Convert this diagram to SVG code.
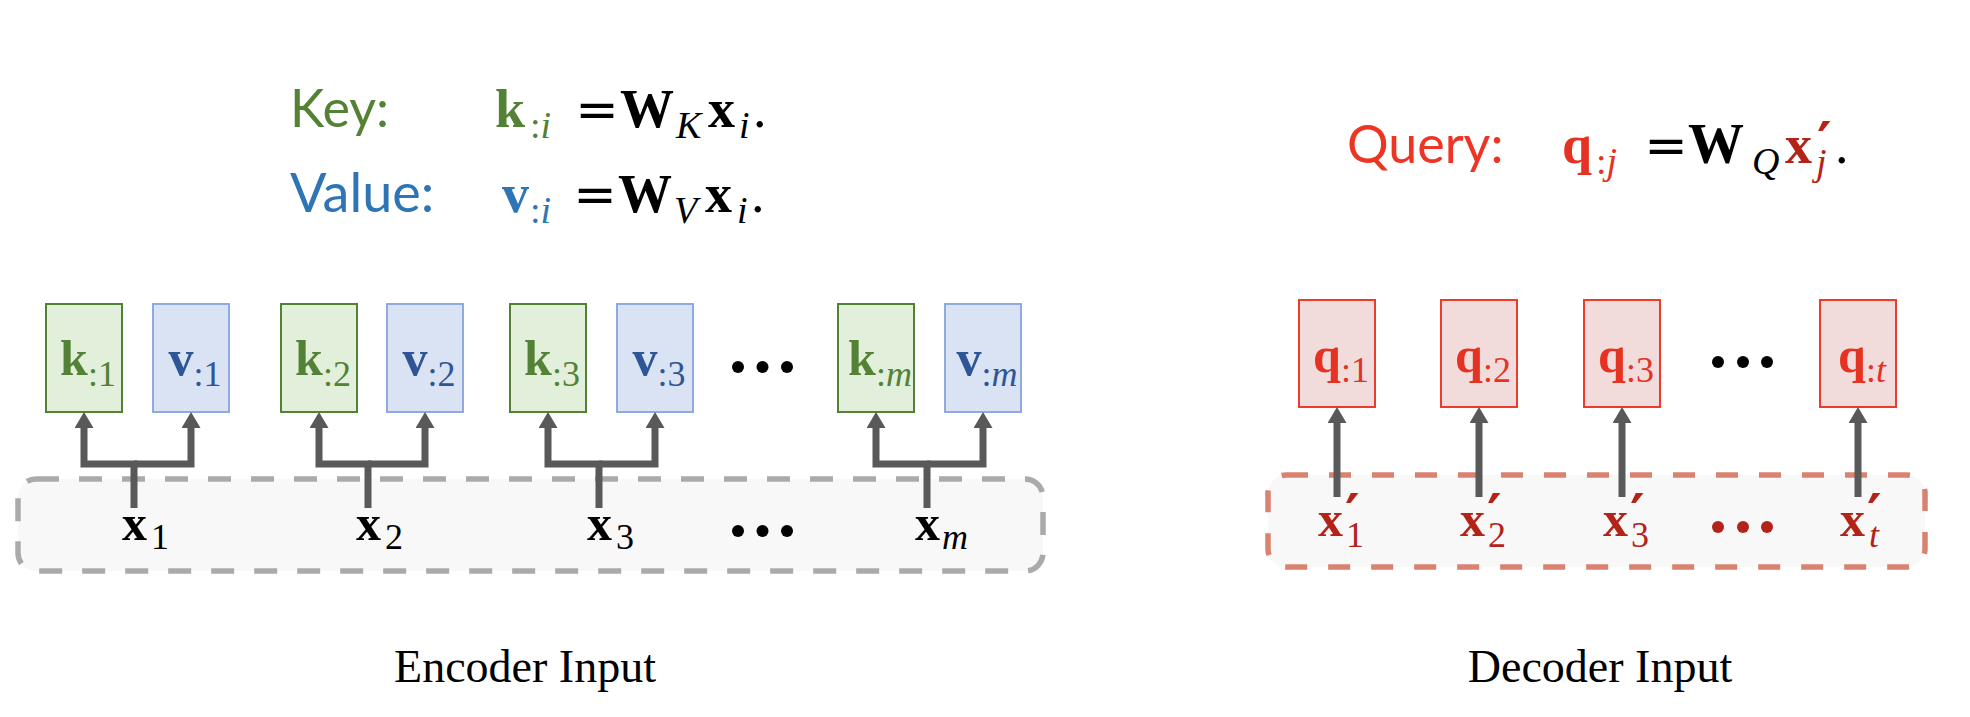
<svg xmlns="http://www.w3.org/2000/svg" width="1970" height="717" viewBox="0 0 1970 717">
<style>
.sans{font-family:Lato,"Liberation Sans",sans-serif}
.b{font-family:"Liberation Serif",serif;font-weight:bold}
.s{font-family:"Liberation Serif",serif;font-weight:normal}
.i{font-style:italic}
.eq{font-family:"DejaVu Sans",sans-serif;font-size:52px}
.kbox{fill:#e2efda;stroke:#548235;stroke-width:2}
.vbox{fill:#dae3f3;stroke:#8faadc;stroke-width:2}
.qbox{fill:#f2dcdb;stroke:#ee3b2b;stroke-width:2}
.kt{fill:#538135;font-size:50px}
.vt{fill:#2f5597;font-size:50px}
.qt{fill:#e53222;font-size:50px}
.sub{font-size:36px}
.xe{fill:#000;font-size:50px}
.xd{fill:#b42318;font-size:50px}
.pr{font-family:"DejaVu Serif","Liberation Serif",serif;font-weight:bold;font-size:56px}
.conn{fill:none;stroke:#595959;stroke-width:7;stroke-linejoin:miter}
.cap{font-family:"Liberation Serif",serif;font-size:46px;fill:#000}
</style>
<defs>
<marker id="ah" markerUnits="userSpaceOnUse" markerWidth="16" markerHeight="19" viewBox="0 0 16 19" refX="0" refY="9.5" orient="auto">
<path d="M0,0 L16,9.5 L0,19 Z" fill="#595959"/>
</marker>
</defs>
<rect width="1970" height="717" fill="#ffffff"/>

<g id="formula-key">
<text x="290" y="127" class="sans" font-size="52" fill="#548235">Key:</text>
<text x="495" y="127" class="b" font-size="54" fill="#548235">k</text>
<text x="530" y="138" class="s" font-size="38" fill="#548235">:<tspan class="i">i</tspan></text>
<text x="597" y="127" class="eq" text-anchor="middle">=</text>
<text x="620" y="127" class="b" font-size="54">W</text>
<text x="676" y="138" class="s i" font-size="38">K</text>
<text x="708" y="127" class="b" font-size="54">x</text>
<text x="739" y="138" class="s i" font-size="38">i</text>
<text x="753" y="127" class="s" font-size="54">.</text>
</g>

<g id="formula-value">
<text x="290" y="212" class="sans" font-size="54" fill="#2e75b6">Value:</text>
<text x="502" y="212" class="b" font-size="54" fill="#2e75b6">v</text>
<text x="530" y="223" class="s" font-size="38" fill="#2e75b6">:<tspan class="i">i</tspan></text>
<text x="595" y="212" class="eq" text-anchor="middle">=</text>
<text x="618" y="212" class="b" font-size="54">W</text>
<text x="674" y="223" class="s i" font-size="38">V</text>
<text x="705" y="212" class="b" font-size="54">x</text>
<text x="737" y="223" class="s i" font-size="38">i</text>
<text x="751" y="212" class="s" font-size="54">.</text>
</g>

<g id="formula-query">
<text x="1347" y="163" class="sans" font-size="52" fill="#ee3524">Query:</text>
<text x="1562" y="163" class="b" font-size="54" fill="#e53222">q</text>
<text x="1596" y="174" class="s" font-size="38" fill="#e53222">:<tspan class="i">j</tspan></text>
<text x="1666" y="163" class="eq" text-anchor="middle">=</text>
<text x="1688" y="163" class="b" font-size="56">W</text>
<text x="1752" y="174" class="s i" font-size="38">Q</text>
<text x="1785" y="163" class="b" font-size="54" fill="#b42318">x<tspan class="pr" x="1817" y="162">′</tspan><tspan class="s i" font-size="38" font-weight="normal" x="1816" y="175">j</tspan></text>
<text x="1835" y="163" class="s" font-size="54">.</text>
</g>

<g id="encoder-input">
<rect x="18" y="479" width="1025" height="92" rx="18" fill="#f8f8f8" stroke="#aaaaaa" stroke-width="5.5" stroke-dasharray="23 20"/>
<text x="122" y="540" class="b xe">x<tspan class="s sub" dx="4" dy="9">1</tspan></text>
<text x="356" y="540" class="b xe">x<tspan class="s sub" dx="4" dy="9">2</tspan></text>
<text x="587" y="540" class="b xe">x<tspan class="s sub" dx="4" dy="9">3</tspan></text>
<text x="915" y="540" class="b xe">x<tspan class="s sub i" dx="2" dy="9">m</tspan></text>
<g fill="#000"><circle cx="738" cy="531" r="6"/><circle cx="762.5" cy="531" r="6"/><circle cx="787" cy="531" r="6"/></g>
</g>

<g id="decoder-input">
<rect x="1268" y="475" width="657" height="92" rx="18" fill="#f8f8f8" stroke="#d9826f" stroke-width="5.5" stroke-dasharray="22 21"/>
<text x="1318" y="536" class="b xd">x<tspan class="pr" x="1345" y="534">′</tspan><tspan class="s sub" x="1346" y="547">1</tspan></text>
<text x="1460" y="536" class="b xd">x<tspan class="pr" x="1487" y="534">′</tspan><tspan class="s sub" x="1488" y="547">2</tspan></text>
<text x="1603" y="536" class="b xd">x<tspan class="pr" x="1630" y="534">′</tspan><tspan class="s sub" x="1631" y="547">3</tspan></text>
<text x="1840" y="536" class="b xd">x<tspan class="pr" x="1867" y="534">′</tspan><tspan class="s sub i" x="1869" y="547">t</tspan></text>
<g fill="#b42318"><circle cx="1718" cy="527" r="6"/><circle cx="1743" cy="527" r="6"/><circle cx="1767" cy="527" r="6"/></g>
</g>

<g id="k1"><rect class="kbox" x="46" y="304" width="76" height="108"/><text x="88" y="375" text-anchor="middle" class="b kt">k<tspan class="s sub" dy="11">:1</tspan></text></g>
<g id="v1"><rect class="vbox" x="153" y="304" width="76" height="108"/><text x="195" y="375" text-anchor="middle" class="b vt">v<tspan class="s sub" dy="11">:1</tspan></text></g>
<g id="k2"><rect class="kbox" x="281" y="304" width="76" height="108"/><text x="323" y="375" text-anchor="middle" class="b kt">k<tspan class="s sub" dy="11">:2</tspan></text></g>
<g id="v2"><rect class="vbox" x="387" y="304" width="76" height="108"/><text x="429" y="375" text-anchor="middle" class="b vt">v<tspan class="s sub" dy="11">:2</tspan></text></g>
<g id="k3"><rect class="kbox" x="510" y="304" width="76" height="108"/><text x="552" y="375" text-anchor="middle" class="b kt">k<tspan class="s sub" dy="11">:3</tspan></text></g>
<g id="v3"><rect class="vbox" x="617" y="304" width="76" height="108"/><text x="659" y="375" text-anchor="middle" class="b vt">v<tspan class="s sub" dy="11">:3</tspan></text></g>
<g id="enc-dots" fill="#000"><circle cx="738" cy="367" r="6"/><circle cx="762.5" cy="367" r="6"/><circle cx="787" cy="367" r="6"/></g>
<g id="km"><rect class="kbox" x="838" y="304" width="76" height="108"/><text x="880" y="375" text-anchor="middle" class="b kt">k<tspan class="s sub" dy="11">:<tspan class="i">m</tspan></tspan></text></g>
<g id="vm"><rect class="vbox" x="945" y="304" width="76" height="108"/><text x="987" y="375" text-anchor="middle" class="b vt">v<tspan class="s sub" dy="11">:<tspan class="i">m</tspan></tspan></text></g>

<g id="q1"><rect class="qbox" x="1299" y="300" width="76" height="107"/><text x="1341" y="372" text-anchor="middle" class="b qt">q<tspan class="s sub" dy="10">:1</tspan></text></g>
<g id="q2"><rect class="qbox" x="1441" y="300" width="76" height="107"/><text x="1483" y="372" text-anchor="middle" class="b qt">q<tspan class="s sub" dy="10">:2</tspan></text></g>
<g id="q3"><rect class="qbox" x="1584" y="300" width="76" height="107"/><text x="1626" y="372" text-anchor="middle" class="b qt">q<tspan class="s sub" dy="10">:3</tspan></text></g>
<g id="dec-dots" fill="#000"><circle cx="1718" cy="362" r="6"/><circle cx="1743" cy="362" r="6"/><circle cx="1767" cy="362" r="6"/></g>
<g id="qt"><rect class="qbox" x="1820" y="300" width="76" height="107"/><text x="1862" y="372" text-anchor="middle" class="b qt">q<tspan class="s sub" dy="10">:<tspan class="i">t</tspan></tspan></text></g>

<g id="connectors" class="conn" marker-end="url(#ah)">
<path d="M134,508 V464 H84 V428"/><path d="M134,464 H191 V428"/>
<path d="M368,508 V464 H319 V428"/><path d="M368,464 H425 V428"/>
<path d="M599,508 V464 H548 V428"/><path d="M599,464 H655 V428"/>
<path d="M927,508 V464 H876 V428"/><path d="M927,464 H983 V428"/>
<path d="M1337,497 V423"/><path d="M1479,497 V423"/><path d="M1622,497 V423"/><path d="M1858,497 V423"/>
</g>

<text x="525" y="682" class="cap" text-anchor="middle">Encoder Input</text>
<text x="1600" y="682" class="cap" text-anchor="middle">Decoder Input</text>
</svg>
